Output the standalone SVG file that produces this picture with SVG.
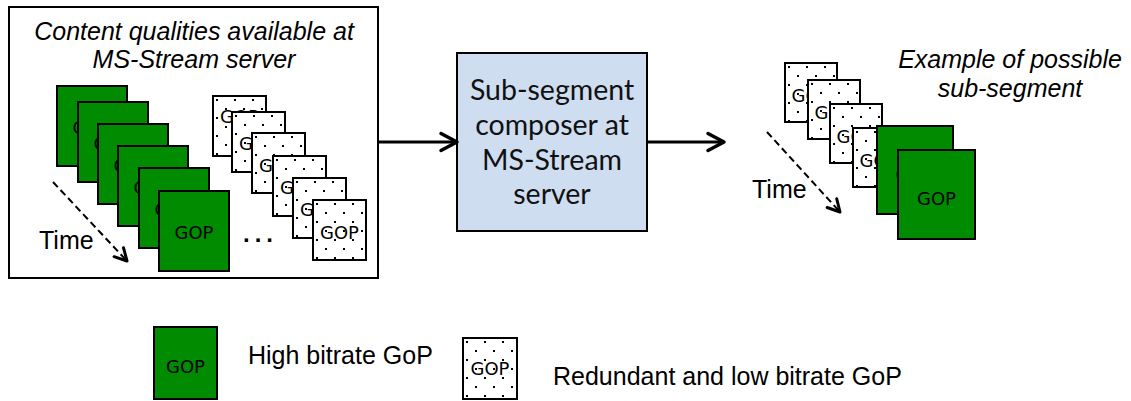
<svg xmlns="http://www.w3.org/2000/svg" width="1131" height="401" viewBox="0 0 1131 401">
<style>
.g{fill:#008B00;stroke:#000;stroke-width:2}
.d{fill:url(#dots);stroke:#000;stroke-width:2}
.gt{font-family:"DejaVu Sans",sans-serif;font-size:18px;fill:#000;text-anchor:middle}
.lab{font-family:"Liberation Sans",Arial,sans-serif;font-size:25px;fill:#000}
.it{font-style:italic;text-anchor:middle}
.box{font-family:Lato,"Open Sans",sans-serif;font-size:28.5px;fill:#111;text-anchor:middle}
.arr{stroke:#000;stroke-width:3;fill:none}
.tm{stroke:#000;stroke-width:2;fill:none;stroke-dasharray:7 4}
</style>
<defs>
<pattern id="dots" patternUnits="userSpaceOnUse" width="18" height="18">
<rect width="18" height="18" fill="#fff"/>
<rect x="3" y="3" width="2" height="2" fill="#000"/>
<rect x="12" y="12" width="2" height="2" fill="#000"/>
</pattern>
<marker id="ah" markerUnits="userSpaceOnUse" viewBox="0 0 22 22" markerWidth="22" markerHeight="22" refX="19" refY="11" orient="auto">
<path d="M3,2.5 L19,11 L3,19.5" fill="none" stroke="#000" stroke-width="3.5" stroke-linecap="round" stroke-linejoin="round" stroke-dasharray="none"/>
</marker>
<marker id="th" markerUnits="userSpaceOnUse" viewBox="0 0 18 18" markerWidth="18" markerHeight="18" refX="15" refY="9" orient="auto">
<path d="M3,2.5 L15,9 L3,15.5" fill="none" stroke="#000" stroke-width="3" stroke-linecap="round" stroke-linejoin="round" stroke-dasharray="none"/>
</marker>
</defs>
<rect width="1131" height="401" fill="#fff"/>

<g id="source-box">
<rect x="9" y="7" width="369" height="271" fill="none" stroke="#000" stroke-width="2"/>
<text class="lab it" x="194" y="40">Content qualities available at</text>
<text class="lab it" x="194" y="68">MS-Stream server</text>
<g id="high-gops">
<rect class="g" x="57" y="86" width="70" height="80"/><text class="gt" x="92" y="134">GOP</text>
<rect class="g" x="78" y="102" width="70" height="80"/><text class="gt" x="113" y="150">GOP</text>
<rect class="g" x="98" y="124" width="70" height="80"/><text class="gt" x="133" y="172">GOP</text>
<rect class="g" x="118" y="146" width="70" height="80"/><text class="gt" x="153" y="194">GOP</text>
<rect class="g" x="139" y="168" width="70" height="80"/><text class="gt" x="174" y="216">GOP</text>
<rect class="g" x="159" y="191" width="70" height="80"/><text class="gt" x="194" y="239">GOP</text>
</g>
<g id="low-gops">
<g transform="translate(213,96)"><rect class="d" width="53" height="60"/><text class="gt" x="26.5" y="27">GOP</text></g>
<g transform="translate(232,112)"><rect class="d" width="53" height="60"/><text class="gt" x="26.5" y="38">GOP</text></g>
<g transform="translate(252,133)"><rect class="d" width="53" height="60"/><text class="gt" x="26.5" y="39">GOP</text></g>
<g transform="translate(273,156)"><rect class="d" width="53" height="60"/><text class="gt" x="26.5" y="38">GOP</text></g>
<g transform="translate(293,178)"><rect class="d" width="53" height="60"/><text class="gt" x="26.5" y="38">GOP</text></g>
<g transform="translate(313,200)"><rect class="d" width="53" height="60"/><text class="gt" x="26.5" y="39">GOP</text></g>
</g>
<text x="243" y="242" font-family="Liberation Sans,Arial,sans-serif" font-size="24" font-weight="bold" letter-spacing="5">...</text>
<g id="time-left">
<line class="tm" x1="53" y1="182" x2="127" y2="261" marker-end="url(#th)"/>
<text class="lab" x="39" y="249">Time</text>
</g>
</g>

<g id="composer">
<rect x="457" y="53" width="190" height="178" fill="#CEDDF0" stroke="#000" stroke-width="2"/>
<text class="box" x="552" y="100">Sub-segment</text>
<text class="box" x="552" y="135">composer at</text>
<text class="box" x="552" y="170">MS-Stream</text>
<text class="box" x="552" y="204">server</text>
</g>

<g id="connectors">
<line class="arr" x1="378" y1="142" x2="457" y2="142" marker-end="url(#ah)"/>
<line class="arr" x1="647" y1="142" x2="724" y2="142" marker-end="url(#ah)"/>
</g>

<g id="example">
<text class="lab it" x="1010" y="68">Example of possible</text>
<text class="lab it" x="1010" y="97">sub-segment</text>
<g transform="translate(785,63)"><rect class="d" width="52" height="59"/><text class="gt" x="26" y="39">GOP</text></g>
<g transform="translate(808,80)"><rect class="d" width="52" height="59"/><text class="gt" x="26" y="39">GOP</text></g>
<g transform="translate(830,104)"><rect class="d" width="52" height="59"/><text class="gt" x="26" y="39">GOP</text></g>
<g transform="translate(853,128)"><rect class="d" width="52" height="59"/><text class="gt" x="26" y="39">GOP</text></g>
<rect class="g" x="877" y="126" width="76" height="88"/><text class="gt" x="915" y="181" font-size="21">GOP</text>
<rect class="g" x="898" y="150" width="77" height="89"/><text class="gt" x="936.5" y="205" font-size="21">GOP</text>
<g id="time-right">
<line class="tm" x1="767" y1="132" x2="840" y2="212" marker-end="url(#th)"/>
<text class="lab" x="752" y="198">Time</text>
</g>
</g>

<g id="legend-high">
<rect class="g" x="154" y="327" width="63" height="72"/>
<text class="gt" x="185.5" y="373">GOP</text>
<text class="lab" x="248" y="364">High bitrate GoP</text>
</g>
<g id="legend-low">
<g transform="translate(463,338)"><rect class="d" width="54" height="61"/><text class="gt" x="27" y="37" font-size="16.5">GOP</text></g>
<text class="lab" x="553" y="385">Redundant and low bitrate GoP</text>
</g>
</svg>
